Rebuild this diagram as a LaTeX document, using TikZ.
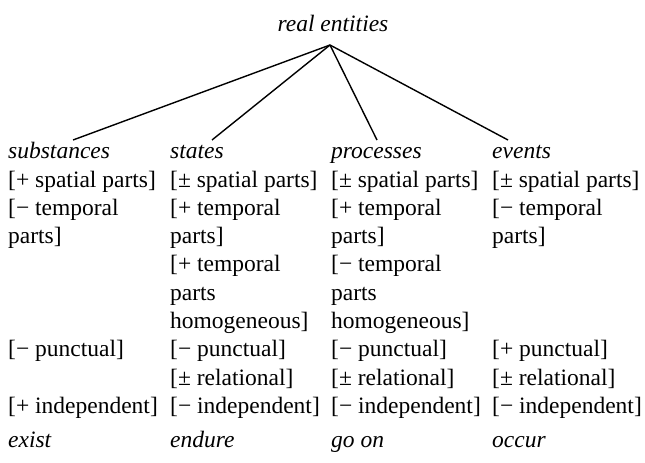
\documentclass[tikz,border=0pt]{standalone}
\usepackage{fontspec}
\setmainfont{Liberation Serif}
\begin{document}
\begin{tikzpicture}[x=1pt,y=-1pt,
  txt/.style={anchor=base west, inner sep=0pt, font=\fontsize{23.5}{28}\selectfont},
  hd/.style={anchor=base west, inner sep=0pt, font=\fontsize{23.5}{28}\selectfont\itshape},
  branch/.style={line width=1.4pt}]
\useasboundingbox (0,0) rectangle (645,463);
% root
\node[anchor=base, inner sep=0pt, font=\fontsize{23.5}{28}\selectfont\itshape] (root) at (333,31) {real entities};
\coordinate (apex) at (330,45);
% headers
\node[hd] (sub) at (8,158) {substances};
\node[hd] (sta) at (170,158) {states};
\node[hd] (pro) at (331,158) {processes};
\node[hd] (eve) at (492,158) {events};
\coordinate (eSub) at (73,140);
\coordinate (eSta) at (212,140);
\coordinate (ePro) at (377,140);
\coordinate (eEve) at (508,140);
\draw[branch] (apex) -- (eSub);
\draw[branch] (apex) -- (eSta);
\draw[branch] (apex) -- (ePro);
\draw[branch] (apex) -- (eEve);
% substances column
\node[txt] (s0) at (8,187) {[+ spatial parts]};
\node[txt] (s1) at (8,215.3) {[− temporal};
\node[txt] (s2) at (8,243.6) {parts]};
\node[txt] (s6) at (8,356.8) {[− punctual]};
\node[txt] (s8) at (8,413.4) {[+ independent]};
% states column
\node[txt] (t0) at (170,187) {[± spatial parts]};
\node[txt] (t1) at (170,215.3) {[+ temporal};
\node[txt] (t2) at (170,243.6) {parts]};
\node[txt] (t3) at (170,271.9) {[+ temporal};
\node[txt] (t4) at (170,300.2) {parts};
\node[txt] (t5) at (170,328.5) {homogeneous]};
\node[txt] (t6) at (170,356.8) {[− punctual]};
\node[txt] (t7) at (170,385.1) {[± relational]};
\node[txt] (t8) at (170,413.4) {[− independent]};
% processes column
\node[txt] (p0) at (331,187) {[± spatial parts]};
\node[txt] (p1) at (331,215.3) {[+ temporal};
\node[txt] (p2) at (331,243.6) {parts]};
\node[txt] (p3) at (331,271.9) {[− temporal};
\node[txt] (p4) at (331,300.2) {parts};
\node[txt] (p5) at (331,328.5) {homogeneous]};
\node[txt] (p6) at (331,356.8) {[− punctual]};
\node[txt] (p7) at (331,385.1) {[± relational]};
\node[txt] (p8) at (331,413.4) {[− independent]};
% events column
\node[txt] (e0) at (492,187) {[± spatial parts]};
\node[txt] (e1) at (492,215.3) {[− temporal};
\node[txt] (e2) at (492,243.6) {parts]};
\node[txt] (e6) at (492,356.8) {[+ punctual]};
\node[txt] (e7) at (492,385.1) {[± relational]};
\node[txt] (e8) at (492,413.4) {[− independent]};
% verbs
\node[hd] (vSub) at (8,447) {exist};
\node[hd] (vSta) at (170,447) {endure};
\node[hd] (vPro) at (331,447) {go on};
\node[hd] (vEve) at (492,447) {occur};
\end{tikzpicture}
\end{document}
